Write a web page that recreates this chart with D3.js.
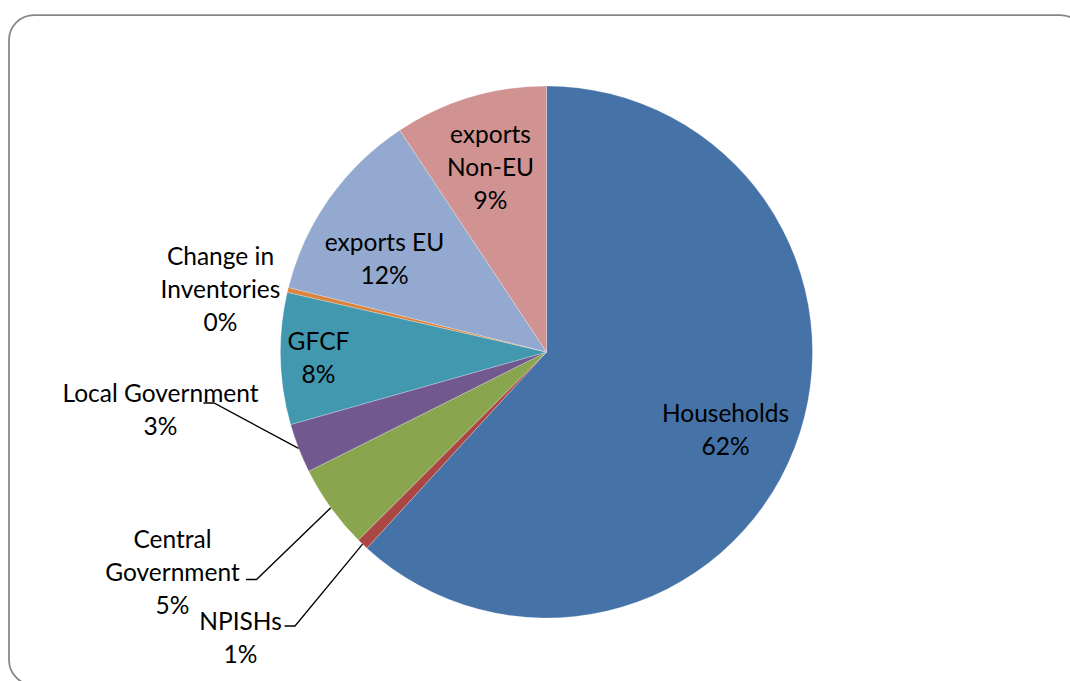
<!DOCTYPE html>
<html>
<head>
<meta charset="utf-8">
<script src="https://cdn.jsdelivr.net/npm/d3@7"></script>
<style>
  html, body { margin: 0; padding: 0; background: #fff; }
  svg text { font-family: Lato, "Open Sans", sans-serif; fill: #000; }
</style>
</head>
<body>
<svg id="chart" width="1070" height="681"></svg>
<script>
// Final demand shares (%), clockwise from 12 o'clock
const categories = ["Households", "NPISHs", "Central Government", "Local Government",
                    "GFCF", "Change in Inventories", "exports EU", "exports Non-EU"];
const shares = [61.8, 0.7, 5.1, 3.0, 8.0, 0.3, 11.8, 9.3];
const labelLines = [["Households"], ["NPISHs"], ["Central", "Government"], ["Local Government"],
                    ["GFCF"], ["Change in", "Inventories"], ["exports EU"], ["exports", "Non-EU"]];
const colors = ["#4572A7", "#AA4643", "#89A54E", "#71588F", "#4198AF", "#DB843D", "#93A9CF", "#D19392"];

// Layout: label centre offsets from the pie centre; leader elbows for outside labels
const W = 1070, H = 681;
const cx = 546.5, cy = 352, R = 266;
const lineH = 33;
const labelLayout = [
  { dx: 179,  dy: 78,   leader: null },
  { dx: -306, dy: 286,  leader: [-251.5, 274] },
  { dx: -374, dy: 220,  leader: [-290, 227.5] },
  { dx: -386, dy: 58,   leader: [-332.5, 51] },
  { dx: -228, dy: 6,    leader: null },
  { dx: -326, dy: -63,  leader: null },
  { dx: -162, dy: -93,  leader: null },
  { dx: -56,  dy: -185, leader: null }
];

const svg = d3.select("#chart");

// Rounded chart-area frame
svg.append("rect")
  .attr("x", 9).attr("y", 15)
  .attr("width", 1076).attr("height", 670)
  .attr("rx", 25).attr("ry", 25)
  .attr("fill", "#fff")
  .attr("stroke", "#868686")
  .attr("stroke-width", 1.75);

const total = d3.sum(shares);
const data = categories.map((c, i) => ({ name: c, value: shares[i], lines: labelLines[i], color: colors[i], layout: labelLayout[i] }));

const pie = d3.pie().value(d => d.value).sort(null).startAngle(0).endAngle(2 * Math.PI);
const arc = d3.arc().innerRadius(0).outerRadius(R);
const arcs = pie(data);

const g = svg.append("g").attr("transform", `translate(${cx},${cy})`);

g.selectAll("path.slice")
  .data(arcs)
  .join("path")
  .attr("class", "slice")
  .attr("d", arc)
  .attr("fill", d => d.data.color)
  .attr("stroke", "#fff")
  .attr("stroke-width", 0.4)
  .attr("stroke-opacity", 0.6);

// Leader lines: slice edge (mid-angle) -> elbow -> short horizontal tick toward the label
g.selectAll("polyline.leader")
  .data(arcs.filter(d => d.data.layout.leader))
  .join("polyline")
  .attr("class", "leader")
  .attr("fill", "none")
  .attr("stroke", "#000")
  .attr("stroke-width", 1.3)
  .attr("points", d => {
    const a = (d.startAngle + d.endAngle) / 2;
    const edge = [R * Math.sin(a), -R * Math.cos(a)];
    const elbow = d.data.layout.leader;
    return [edge, elbow, [elbow[0] - 10.5, elbow[1]]].map(p => p.join(",")).join(" ");
  });

// Data labels: category name + rounded percentage
const labels = g.selectAll("text.label")
  .data(arcs)
  .join("text")
  .attr("class", "label")
  .attr("text-anchor", "middle")
  .attr("font-size", 24.5)
  .attr("x", d => d.data.layout.dx)
  .attr("y", d => d.data.layout.dy);

labels.each(function(d) {
  const lines = d.data.lines.concat([Math.round(d.data.value / total * 100) + "%"]);
  const n = lines.length;
  const t = d3.select(this);
  lines.forEach((ln, i) => {
    t.append("tspan")
      .attr("x", d.data.layout.dx)
      .attr("y", d.data.layout.dy + (i - (n - 1) / 2) * lineH)
      .attr("dy", "0.36em")
      .text(ln);
  });
});
</script>
</body>
</html>
